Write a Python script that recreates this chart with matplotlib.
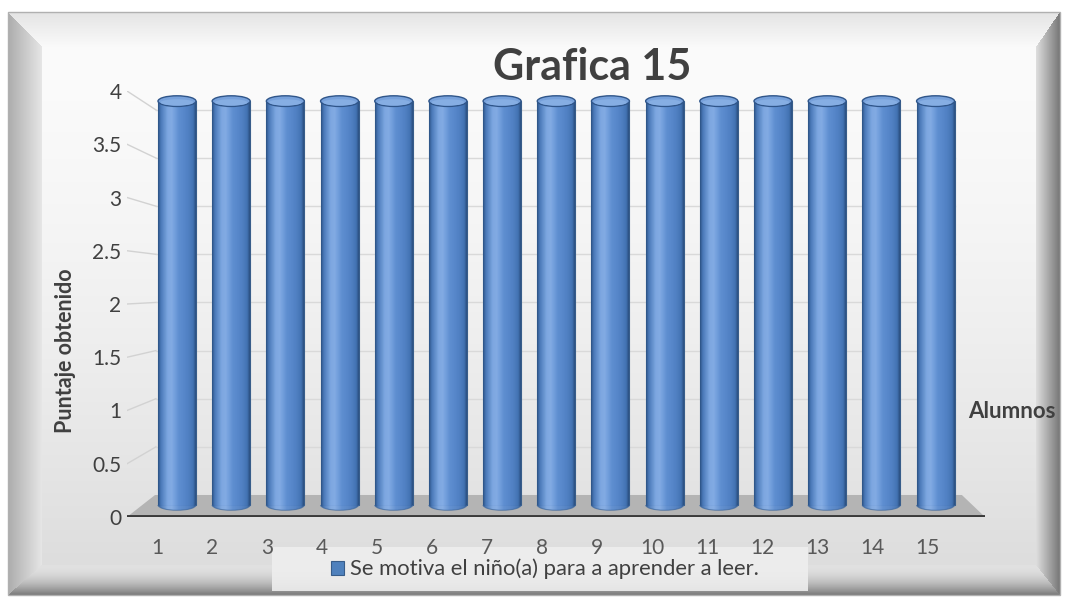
import numpy as np
import matplotlib
matplotlib.use('Agg')
import matplotlib.pyplot as plt
from matplotlib.colors import LinearSegmentedColormap
from matplotlib.patches import Ellipse, Polygon, Rectangle, Arc

# ---------------- data ----------------
alumnos = list(range(1, 16))
x_labels = [str(a) for a in alumnos]
puntaje = [4, 4, 4, 4, 4, 4, 4, 4, 4, 4, 4, 4, 4, 4, 4]
y_ticks = [0, 0.5, 1, 1.5, 2, 2.5, 3, 3.5, 4]
y_tick_labels = ['0', '0.5', '1', '1.5', '2', '2.5', '3', '3.5', '4']
title = 'Grafica 15'
y_title = 'Puntaje obtenido'
x_title = 'Alumnos'
series_name = 'Se motiva el niño(a) para a aprender a leer.'

plt.rcParams['font.family'] = ['Lato', 'DejaVu Sans']

W, H = 1065, 600
fig = plt.figure(figsize=(W / 100, H / 100), dpi=100)

# ---------------- beveled background ----------------
bg = fig.add_axes([0, 0, 1, 1], zorder=0)
bg.set_xlim(0, W)
bg.set_ylim(H, 0)
bg.axis('off')
yy, xx = np.mgrid[0:H, 0:W] + 0.5
L, T, R, B = 8, 12, 1060, 595
wl, wt, wr, wb = 34, 35, 24, 30
dl = (xx - L) / wl
dt = (yy - T) / wt
dr = (R - xx) / wr
db = (B - yy) / wb
stack = np.stack([dl, dt, dr, db])
m = stack.min(0)
arg = stack.argmin(0)
face = 251 - 30 * np.clip((yy - 47) / 518, 0, 1) ** 1.5
t = np.clip(m, 0, 1)
left = 172 + 58 * t
top = 228 + 22 * t
right = 118 + 105 * t
bottom = 225 - 105 * (1 - t) ** 2
bev = np.choose(arg, [left, top, right, bottom])
img = np.where(m < 1, bev, face)
img = np.where(m < 0, 255, img)
g = np.clip(img, 0, 255) / 255
bg.imshow(np.dstack([g, g, g]), extent=(0, W, H, 0), interpolation='bilinear')
bg.add_patch(Rectangle((L, T), R - L, B - T, fill=False, edgecolor='#b0b0b0', lw=1))
# legend box
bg.add_patch(Rectangle((272, 547), 808 - 272, 591 - 547, facecolor='#eeeeee',
                       edgecolor='none', alpha=0.9))
bg.set_xlim(0, W)
bg.set_ylim(H, 0)

# ---------------- main axes ----------------
ax = fig.add_axes([127 / W, 1 - 517 / H, (985 - 127) / W, (517 - 91) / H], zorder=1)
ax.patch.set_alpha(0)
for s in ax.spines.values():
    s.set_visible(False)

fx0, fx1 = 0.455, 16.04
bx0, bx1 = 0.98, 15.49


def back_y(v):
    return 0.2066 + 0.904 * v


# floor
ax.add_patch(Polygon([(fx0, 0), (fx1, 0), (15.62, back_y(0)), (0.964, back_y(0))],
                     closed=True, facecolor='#b4b4b4', edgecolor='none', zorder=1))
# gridlines (side wall + back wall)
for v in y_ticks[1:]:
    ax.plot([fx0, bx0], [v, back_y(v)], color='#d2d2d2', lw=1, zorder=1)
    ax.plot([bx0, bx1], [back_y(v), back_y(v)], color='#d9d9d9', lw=1, zorder=1)
# front axis line
ax.plot([fx0, fx1], [0, 0], color='#3a3a3a', lw=2.8, solid_capstyle='butt', zorder=2)

# cylinders
n = len(alumnos)
idx = np.arange(n)
centers = 1.363 + idx * 0.9842
base = 0.113
k = 0.948
heights = np.array(puntaje) * k
bars = ax.bar(centers, heights, width=0.69, bottom=base, color='#4f81bd',
              edgecolor='#385d8a', linewidth=0.8, label=series_name, zorder=3)

cyl = LinearSegmentedColormap.from_list('cyl', [
    (0.0, '#2d5486'), (0.07, '#4a79b9'), (0.25, '#80aae3'), (0.36, '#85aee6'),
    (0.55, '#6090d3'), (0.8, '#5181c4'), (0.93, '#4373b3'), (1.0, '#2b4f80')])
grad = np.linspace(0, 1, 64)[None, :]
eh = 0.1
for b in bars:
    x0 = b.get_x()
    w = b.get_width()
    y0 = b.get_y()
    hh = b.get_height()
    cx = x0 + w / 2
    im = ax.imshow(grad, cmap=cyl, extent=(x0, x0 + w, y0 - eh / 2, y0 + hh),
                   aspect='auto', zorder=4, interpolation='bilinear', alpha=0.95)
    im.set_clip_path(b)
    eb = Ellipse((cx, y0), w, eh, facecolor='none', edgecolor='none', zorder=4)
    ax.add_patch(eb)
    im2 = ax.imshow(grad, cmap=cyl, extent=(x0, x0 + w, y0 - eh / 2, y0 + hh),
                    aspect='auto', zorder=4, interpolation='bilinear', alpha=0.95)
    im2.set_clip_path(eb)
    ax.add_patch(Arc((cx, y0), w, eh, theta1=180, theta2=360,
                     edgecolor='#3d68a0', lw=0.8, alpha=0.7, zorder=5))
    ax.add_patch(Ellipse((cx, y0 + hh), w, eh, facecolor='#77a1db',
                         edgecolor='#2f5589', lw=1.0, zorder=6))
    ax.add_patch(Ellipse((cx, y0 + hh - eh * 0.12), w * 0.86, eh * 0.6, facecolor='#86aee3',
                         edgecolor='none', zorder=6))

ax.set_xlim(fx0, fx1)
ax.set_ylim(0, 4)

ax.set_xticks(alumnos)
ax.set_xticklabels(x_labels, fontsize=15, color='#595959')
ax.set_yticks(y_ticks)
ax.set_yticklabels(y_tick_labels, fontsize=15, color='#404040')
ax.tick_params(axis='both', length=0)
ax.tick_params(axis='x', pad=15)
ax.tick_params(axis='y', pad=4)

# ---------------- texts ----------------
fig.text(592 / W, 1 - 80 / H, title, fontsize=31, fontweight='bold', color='#404040',
         ha='center', va='baseline', zorder=3)
fig.text(65 / W, 1 - 351 / H, y_title, rotation=90, fontsize=15.5, fontweight='bold',
         color='#404040', ha='center', va='center', zorder=3)
fig.text(968 / W, 1 - 418 / H, x_title, fontsize=16, fontweight='bold', color='#404040',
         ha='left', va='baseline', zorder=3)

leg = fig.legend(handles=[bars], labels=[series_name], loc='center',
                 bbox_to_anchor=(545 / W, 1 - 569 / H), fontsize=15.8, frameon=False,
                 handlelength=0.6, handleheight=0.6, handletextpad=0.3, borderpad=0.4)
leg.set_zorder(0.5)
for tx in leg.get_texts():
    tx.set_color('#404040')

fig.savefig('out.png', dpi=100)
